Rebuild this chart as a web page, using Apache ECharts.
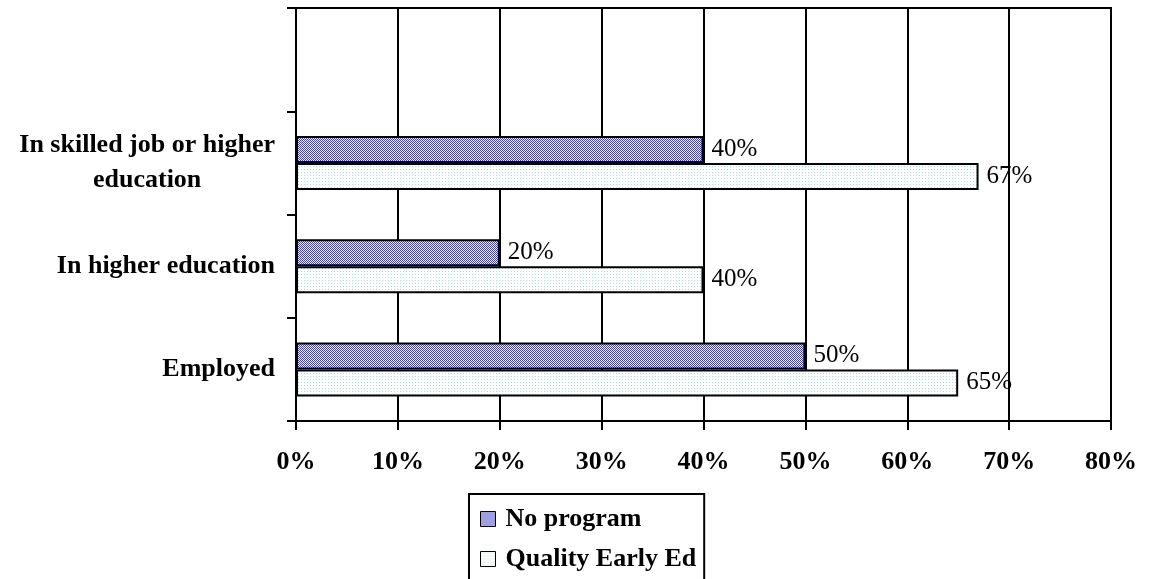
<!DOCTYPE html>
<html>
<head>
<meta charset="utf-8">
<script src="https://cdn.jsdelivr.net/npm/echarts@6/dist/echarts.min.js"></script>
<style>
  html, body { margin: 0; padding: 0; background: #fff; }
  #chart { width: 1149px; height: 579px; }
</style>
</head>
<body>
<div id="chart"></div>
<script>
// Categories listed top to bottom; the first slot stays empty
const categories = ['', 'In skilled job or higher\neducation', 'In higher education', 'Employed'];
const noProgram = [null, 40, 20, 50];
const qualityEarlyEd = [null, 67, 40, 65];
const seriesNames = ['No program', 'Quality Early Ed'];
const xTicks = [0, 10, 20, 30, 40, 50, 60, 70, 80];

// Small repeating fill patterns for the bars
function makePattern(size, draw) {
  const c = document.createElement('canvas');
  c.width = size; c.height = size;
  const ctx = c.getContext('2d');
  ctx.fillStyle = '#ffffff';
  ctx.fillRect(0, 0, size, size);
  draw(ctx);
  return { image: c, repeat: 'repeat' };
}
const checker = makePattern(2, ctx => {
  ctx.fillStyle = '#4040c8';
  ctx.fillRect(0, 0, 1, 1);
  ctx.fillRect(1, 1, 1, 1);
});
const dots = makePattern(3, ctx => {
  ctx.fillStyle = '#9fe6dc';
  ctx.fillRect(1, 1, 1, 1);
});

const serif = '"Liberation Serif", "Times New Roman", serif';

const chart = echarts.init(document.getElementById('chart'), null, { renderer: 'canvas' });

const barLabel = {
  show: true,
  position: 'right',
  distance: 8,
  fontFamily: serif,
  fontSize: 25,
  color: '#000',
  formatter: p => p.value + '%'
};

chart.setOption({
  backgroundColor: '#ffffff',
  animation: false,
  grid: {
    left: 296, right: 38, top: 8, bottom: 158,
    show: true, borderColor: '#000', borderWidth: 2, backgroundColor: 'transparent'
  },
  legend: {
    orient: 'vertical',
    left: 469, top: 494,
    height: 300,
    data: seriesNames,
    icon: 'rect',
    itemWidth: 15, itemHeight: 15,
    itemGap: 14,
    padding: [12, 8, 40, 11],
    borderColor: '#000', borderWidth: 2,
    textStyle: { fontFamily: serif, fontSize: 26, fontWeight: 'bold', color: '#000', padding: [0, 0, 0, 5] },
    itemStyle: { borderColor: '#000', borderWidth: 1 }
  },
  xAxis: {
    type: 'value',
    min: xTicks[0], max: xTicks[xTicks.length - 1], interval: 10,
    axisLine: { show: true, lineStyle: { color: '#000', width: 2 } },
    axisTick: { show: true, length: 9, lineStyle: { color: '#000', width: 2 } },
    splitLine: { show: true, lineStyle: { color: '#000', width: 2 } },
    axisLabel: {
      margin: 28,
      fontFamily: serif, fontSize: 26, fontWeight: 'bold', color: '#000',
      formatter: v => v + '%'
    }
  },
  yAxis: {
    type: 'category',
    inverse: true,
    data: categories,
    axisLine: { show: true, lineStyle: { color: '#000', width: 2 } },
    axisTick: { show: true, length: 9, alignWithLabel: false, lineStyle: { color: '#000', width: 2 } },
    splitLine: { show: false },
    axisLabel: {
      margin: 21,
      lineHeight: 35,
      formatter: v => v.split('\n').map(s => '{a|' + s + '}').join('\n'),
      rich: {
        a: { fontFamily: serif, fontSize: 26, fontWeight: 'bold', color: '#000', align: 'center', lineHeight: 35 }
      }
    }
  },
  series: [
    {
      name: seriesNames[0],
      type: 'bar',
      data: noProgram,
      barWidth: 27,
      barGap: '0%',
      itemStyle: { color: checker, borderColor: '#000', borderWidth: 2 },
      label: barLabel
    },
    {
      name: seriesNames[1],
      type: 'bar',
      data: qualityEarlyEd,
      barWidth: 27,
      barGap: '0%',
      itemStyle: { color: dots, borderColor: '#000', borderWidth: 2 },
      label: barLabel
    }
  ]
});
</script>
</body>
</html>
